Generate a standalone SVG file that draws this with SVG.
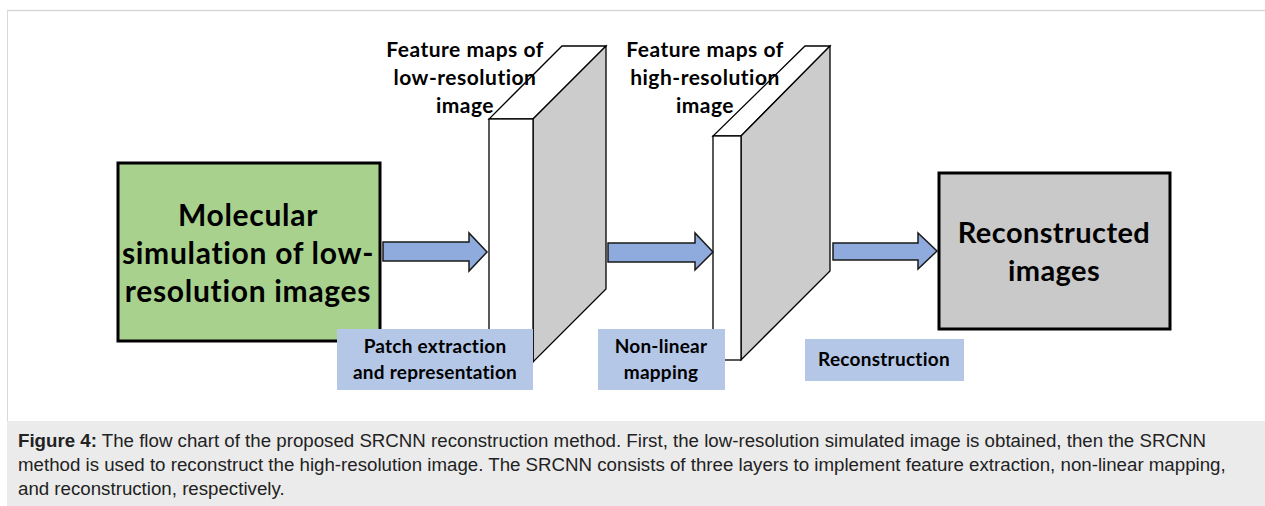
<svg xmlns="http://www.w3.org/2000/svg" width="1265" height="506" viewBox="0 0 1265 506">
<style>
.lbl{font-family:Lato,"Open Sans","Liberation Sans",sans-serif;font-weight:bold;fill:#000;text-anchor:middle}
.big{font-size:30px;letter-spacing:0.7px}
.big2{font-size:29px;letter-spacing:0.4px}
.mid{font-size:21px;letter-spacing:0.5px}
.sm{font-size:19px;letter-spacing:0.25px}
.cap{font-family:"Liberation Sans",Arial,sans-serif;font-size:18.7px;fill:#222}
.arrow{fill:#8faadc;stroke:#1a1a1a;stroke-width:1.5;stroke-linejoin:miter}
.front{fill:#fff;stroke:#000;stroke-width:1.3}
.side{fill:#cccccc;stroke:#000;stroke-width:1.3}
.tag{fill:#b4c7e7}
</style>
<rect x="0" y="0" width="1265" height="506" fill="#fff"/>
<line x1="7" y1="10.5" x2="1265" y2="10.5" stroke="#d8d8d8" stroke-width="1.5"/>
<line x1="7.5" y1="10" x2="7.5" y2="421" stroke="#d8d8d8" stroke-width="1"/>
<rect x="7" y="421" width="1258" height="85" fill="#ebebeb"/>

<g id="slab1">
<polygon class="front" points="489,119 533,119 606,46 562,46"/>
<polygon class="side" points="533,119 606,46 606,289 533,362"/>
<rect class="front" x="489" y="119" width="44" height="243"/>
<text class="lbl mid" x="465" y="57">Feature maps of</text>
<text class="lbl mid" x="465" y="85">low-resolution</text>
<text class="lbl mid" x="465" y="113">image</text>
</g>

<g id="slab2">
<polygon class="front" points="713,136 741,136 830,46 805,46"/>
<polygon class="side" points="741,136 830,46 830,271 741,360"/>
<rect class="front" x="713" y="136" width="28" height="224"/>
<text class="lbl mid" x="705" y="57">Feature maps of</text>
<text class="lbl mid" x="705" y="85">high-resolution</text>
<text class="lbl mid" x="705" y="113">image</text>
</g>

<g id="input">
<rect x="118" y="163" width="262" height="178" fill="#a9d18e" stroke="#000" stroke-width="3"/>
<text class="lbl big" x="248" y="226">Molecular</text>
<text class="lbl big" x="248" y="264">simulation of low-</text>
<text class="lbl big" x="248" y="302">resolution images</text>
</g>

<g id="output">
<rect x="939" y="173" width="231" height="156" fill="#c9c9c9" stroke="#000" stroke-width="3"/>
<text class="lbl big2" x="1054" y="243">Reconstructed</text>
<text class="lbl big2" x="1054" y="281">images</text>
</g>

<g id="connectors">
<polygon class="arrow" points="383,242 469,242 469,233 487,252 469,271 469,261 383,261"/>
<polygon class="arrow" points="608,243 695,243 695,233 713,252 695,270 695,262 608,262"/>
<polygon class="arrow" points="833,243 918,243 918,233 937,251 918,269 918,260 833,260"/>
</g>

<g id="tag1">
<rect class="tag" x="337" y="329" width="196" height="61"/>
<text class="lbl sm" x="435" y="353">Patch extraction</text>
<text class="lbl sm" x="435" y="379">and representation</text>
</g>
<g id="tag2">
<rect class="tag" x="598" y="329" width="127" height="61"/>
<text class="lbl sm" x="661" y="353">Non-linear</text>
<text class="lbl sm" x="661" y="379">mapping</text>
</g>
<g id="tag3">
<rect class="tag" x="805" y="339" width="159" height="42"/>
<text class="lbl sm" x="884" y="366">Reconstruction</text>
</g>

<g id="caption">
<text class="cap" x="18" y="447"><tspan font-weight="bold">Figure 4:</tspan> The flow chart of the proposed SRCNN reconstruction method. First, the low-resolution simulated image is obtained, then the SRCNN</text>
<text class="cap" x="18" y="471">method is used to reconstruct the high-resolution image. The SRCNN consists of three layers to implement feature extraction, non-linear mapping,</text>
<text class="cap" x="18" y="495">and reconstruction, respectively.</text>
</g>
</svg>
